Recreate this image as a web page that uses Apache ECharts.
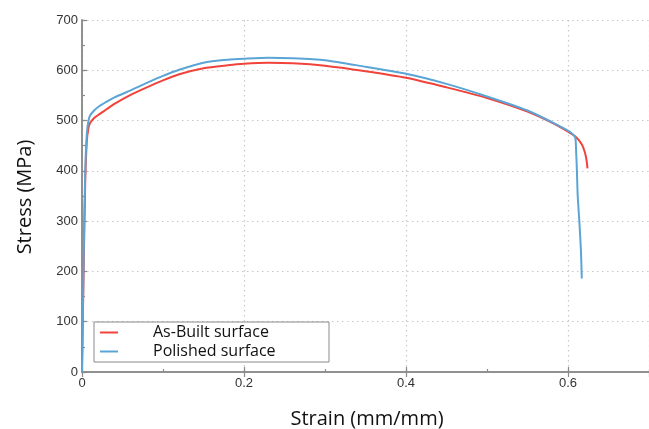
<!DOCTYPE html>
<html>
<head>
<meta charset="utf-8">
<script src="https://cdn.jsdelivr.net/npm/echarts@6/dist/echarts.min.js"></script>
<style>html,body{margin:0;padding:0;background:#fff}#c{width:649px;height:429px}</style>
</head>
<body>
<div id="c"></div>
<script>
const seriesNames = ['As-Built surface', 'Polished surface'];
const asBuilt = [[0,0],[0.002,200],[0.004,380],[0.006,460],[0.008,485],[0.01,495],[0.015,505],[0.02,511],[0.03,522],[0.04,533],[0.06,551],[0.08,566],[0.1,580],[0.12,592],[0.15,604],[0.18,610],[0.2,613],[0.23,615],[0.26,614],[0.3,609],[0.35,598],[0.4,585],[0.45,566],[0.5,545],[0.55,518],[0.58,496],[0.6,478],[0.61,467],[0.617,453],[0.621,436],[0.623,420],[0.624,405]];
const polished = [[0,0],[0.002,220],[0.004,400],[0.006,475],[0.008,500],[0.01,510],[0.015,520],[0.02,527],[0.03,537],[0.04,546],[0.06,560],[0.08,575],[0.1,589],[0.12,601],[0.15,615],[0.18,621],[0.2,623],[0.23,625],[0.26,624],[0.3,620],[0.35,607],[0.4,593],[0.45,573],[0.5,548],[0.55,520],[0.58,497],[0.6,480],[0.605,474],[0.609,466],[0.61,440],[0.611,400],[0.612,350],[0.614,300],[0.616,240],[0.617,186]];
const xTicks = [0, 0.2, 0.4, 0.6];
const yTicks = [0, 100, 200, 300, 400, 500, 600, 700];

const chart = echarts.init(document.getElementById('c'), null, {renderer: 'canvas'});
const axisLineStyle = {color: '#8a8a8a', width: 1.5};
const tickStyle = {color: '#8a8a8a', width: 1.2};
const grid = {left: 82, top: 20, width: 569, height: 352};
const split = {show: true, lineStyle: {color: '#c8c8c8', type: [1.5, 3.5], width: 1.2}};
const labelFont = {fontFamily: 'Liberation Sans, Arial, sans-serif', fontSize: 13, color: '#333'};
chart.setOption({
  animation: false,
  grid: grid,
  legend: {
    left: 94, top: 322, orient: 'vertical',
    data: seriesNames.map(n => ({name: n, icon: 'rect'})),
    itemWidth: 18, itemHeight: 2, itemGap: 2,
    borderColor: '#8a8a8a', borderWidth: 1, padding: [2, 6, 2, 6],
    backgroundColor: '#fff',
    textStyle: {fontFamily: 'Open Sans, sans-serif', fontSize: 16, color: '#111', lineHeight: 17, padding: [0, 0, 0, 30], width: 170}
  },
  xAxis: [{
    type: 'value', min: 0, max: 0.7, interval: 0.2,
    axisLine: {show: true, onZero: false, lineStyle: axisLineStyle},
    axisTick: {show: true, inside: true, length: 5, lineStyle: tickStyle},
    axisLabel: Object.assign({margin: 5, showMaxLabel: false, formatter: v => xTicks.includes(Math.round(v*10)/10) ? String(Math.round(v*10)/10) : ''}, labelFont),
    splitLine: split
  }, {
    type: 'value', min: 0, max: 0.7, interval: 0.2, position: 'top',
    axisLine: {show: true, lineStyle: axisLineStyle},
    axisTick: {show: true, inside: true, length: 5, lineStyle: tickStyle},
    axisLabel: {show: false}, splitLine: {show: false}
  }, {
    type: 'value', min: 0, max: 0.7, interval: 0.1, position: 'bottom',
    axisLine: {show: false},
    axisTick: {show: true, inside: true, length: 3, lineStyle: tickStyle},
    axisLabel: {show: false}, splitLine: {show: false}
  }],
  yAxis: [{
    type: 'value', min: 0, max: 700, interval: 100,
    axisLine: {show: true, onZero: false, lineStyle: axisLineStyle},
    axisTick: {show: true, inside: true, length: 5, lineStyle: tickStyle},
    axisLabel: Object.assign({margin: 4, formatter: v => yTicks.includes(v) ? String(v) : ''}, labelFont),
    splitLine: split
  }, {
    type: 'value', min: 0, max: 700, interval: 100, position: 'right',
    axisLine: {show: true, lineStyle: axisLineStyle},
    axisTick: {show: false}, axisLabel: {show: false}, splitLine: {show: false}
  }, {
    type: 'value', min: 0, max: 700, interval: 50, position: 'left',
    axisLine: {show: false},
    axisTick: {show: true, inside: true, length: 3, lineStyle: tickStyle},
    axisLabel: {show: false}, splitLine: {show: false}
  }],
  series: [{
    name: seriesNames[0], type: 'line', data: asBuilt, showSymbol: false, smooth: 0.25,
    lineStyle: {color: '#f0433b', width: 2}, itemStyle: {color: '#f0433b'}, z: 3
  }, {
    name: seriesNames[1], type: 'line', data: polished, showSymbol: false, smooth: 0.25,
    lineStyle: {color: '#5aa5d6', width: 2}, itemStyle: {color: '#5aa5d6'}, z: 4
  }],
  graphic: [{
    type: 'text', x: 367, y: 419,
    style: {text: 'Strain (mm/mm)', font: '20px "Open Sans", sans-serif', fill: '#111', align: 'center', verticalAlign: 'middle'}
  }, {
    type: 'text', x: 25, y: 197, rotation: Math.PI / 2,
    style: {text: 'Stress (MPa)', font: '20px "Open Sans", sans-serif', fill: '#111', align: 'center', verticalAlign: 'middle'}
  }]
});
</script>
</body>
</html>
